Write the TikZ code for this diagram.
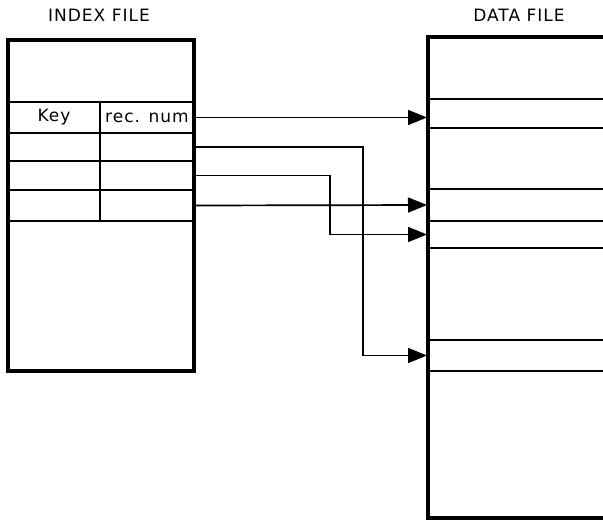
\documentclass[tikz,border=0pt]{standalone}
\usepackage{fontspec}
\setmainfont[LetterSpace=6]{DejaVu Sans}
\usetikzlibrary{arrows.meta}
\tikzset{
  frame/.style={draw, line width=3.4pt},
  cell/.style={draw, line width=2pt, inner sep=0pt},
  link/.style={line width=1.7pt, -{Triangle[length=19pt,width=15pt]}, shorten >=1pt},
  title/.style={font=\fontsize{17}{19}\selectfont}
}
\begin{document}
\begin{tikzpicture}[x=1pt,y=-1pt, every node/.style={font=\fontsize{17}{19}\selectfont}]
\useasboundingbox (0,0) rectangle (603,522);
\fill[white] (0,0) rectangle (603,522);
% index file
\node[title] (indexlabel) at (99,15) {INDEX FILE};
\foreach \i/\yc/\h in {1/117.5/31, 2/147/28, 3/175.5/29, 4/205.5/31} {
  \node[cell, minimum width=92pt, minimum height=\h pt] (key\i) at (54,\yc) {};
  \node[cell, minimum width=94pt, minimum height=\h pt] (rec\i) at (147,\yc) {};
}
\node at (key1) {Key};
\node at (rec1) {rec. num};
\node[frame, minimum width=186pt, minimum height=331pt] (index) at (101,205.5) {};
% data file
\node[title] (datalabel) at (519,15) {DATA FILE};
\foreach \i/\yc/\h in {1/113.5/29, 2/205/32, 3/234.5/27, 4/355.5/31}
  \node[cell, anchor=west, minimum width=220pt, minimum height=\h pt] (d\i) at (428,\yc) {};
\draw[frame] (640,37) -- (428,37) -- (428,518) -- (640,518);
% pointers
\coordinate (bendA) at (363,0);
\coordinate (bendB) at (330,0);
\draw[link] (rec1.east) -- (rec1.east -| d1.west);
\draw[link] (rec2.east) -- (rec2.east -| bendA) |- (d4.west);
\draw[link] (rec3.east) -- (rec3.east -| bendB) |- (d3.west);
\draw[link] (rec4.east) -- (d2.west);
\end{tikzpicture}
\end{document}
